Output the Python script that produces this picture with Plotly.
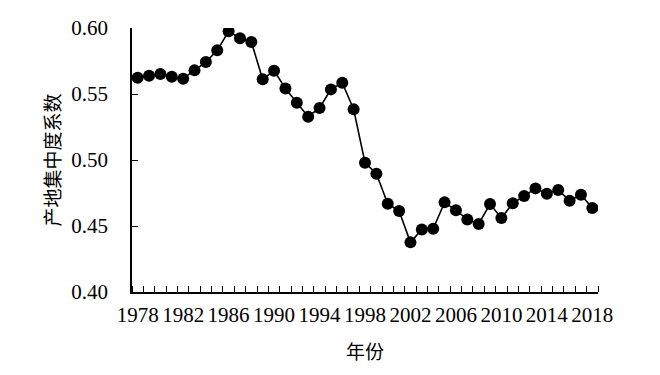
import plotly.graph_objects as go

years = list(range(1978, 2019))
values = [0.5623, 0.5639, 0.5651, 0.5631, 0.5616, 0.5679, 0.5742, 0.5831, 0.5975, 0.5922,
          0.5894, 0.5611, 0.5677, 0.5542, 0.5433, 0.5328, 0.5394, 0.5535, 0.5585, 0.5384,
          0.4980, 0.4896, 0.4669, 0.4613, 0.4376, 0.4473, 0.4479, 0.4679, 0.4619, 0.4550,
          0.4516, 0.4666, 0.4561, 0.4672, 0.4727, 0.4785, 0.4745, 0.4773, 0.4692, 0.4737,
          0.4636]
x_labels = [str(y) for y in range(1978, 2019, 4)]
y_ticks = [0.40, 0.45, 0.50, 0.55, 0.60]
x_title = "年份"
y_title = "产地集中度系数"

serif = "Liberation Serif"
cjk = "Noto Sans CJK SC"

fig = go.Figure()
fig.add_trace(go.Scatter(
    x=years, y=values, mode="lines+markers",
    line=dict(color="black", width=1.6),
    marker=dict(color="black", size=12),
    showlegend=False,
))

fig.update_layout(
    width=660, height=375,
    margin=dict(l=132, r=62, t=28, b=83),
    paper_bgcolor="white", plot_bgcolor="white",
    font=dict(family=serif, color="black", size=21),
)
fig.update_xaxes(
    range=[1977.5, 2018.5],
    tickmode="array", tickvals=[int(v) for v in x_labels], ticktext=x_labels,
    ticks="", showgrid=False, zeroline=False,
    showline=True, linecolor="black", linewidth=1.5,
    tickfont=dict(family=serif, size=21),
    ticklabelstandoff=3,
    minor=dict(ticks="inside", tick0=1977.5, dtick=1, ticklen=6, tickcolor="black", tickwidth=1.2, showgrid=False),
    title=dict(text=x_title, font=dict(family=cjk, size=19), standoff=20),
)
fig.update_yaxes(
    range=[0.40, 0.60],
    tickmode="array", tickvals=y_ticks, ticktext=[f"{v:.2f}" for v in y_ticks],
    ticks="inside", ticklen=6, tickcolor="black", tickwidth=1.2,
    showgrid=False, zeroline=False,
    showline=True, linecolor="black", linewidth=1.5,
    tickfont=dict(family=serif, size=21),
    ticklabelstandoff=18,
    title=dict(text=y_title, font=dict(family=cjk, size=19), standoff=6),
)

fig.write_html("out.html")
